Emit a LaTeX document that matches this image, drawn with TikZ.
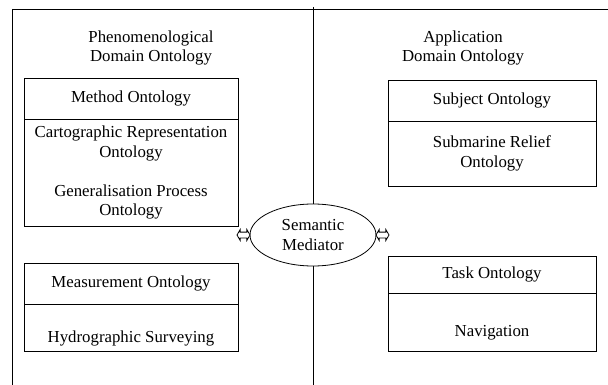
\documentclass[tikz,border=0pt]{standalone}
\usepackage{fontspec}
\setmainfont{Liberation Serif}
\usepackage{tikz}
\usetikzlibrary{shapes.geometric,shapes.arrows,positioning}
\tikzstyle{head} = [rectangle, draw, fill=white, align=center,
    inner sep=0pt, outer sep=0pt, minimum height=41pt]
\tikzstyle{body} = [rectangle, draw, fill=white, align=center,
    inner sep=0pt, outer sep=0pt]
\tikzstyle{title} = [align=center, inner sep=0pt]
\tikzstyle{mediator} = [ellipse, draw, fill=white, align=center,
    minimum width=126pt, minimum height=62pt, inner sep=0pt, outer sep=0pt]
\tikzstyle{link} = [double arrow, draw, fill=white, minimum height=13pt,
    inner xsep=0pt, inner ysep=2.5pt, double arrow head extend=2.5pt,
    double arrow tip angle=120, outer sep=0pt]

\begin{document}
\begin{tikzpicture}[x=1pt, y=-1pt, line width=0.8pt,
    font=\fontsize{16.8}{19.5}\selectfont]
 \useasboundingbox (0,0) rectangle (608,385);
 % Frame and divider
   \draw (12,9) -- (608,9);
   \draw (12,9) -- (12,385);
   \draw (313,7) -- (313,385);

 % Place nodes
   \node[title] (phen) at (151,48) {Phenomenological\\Domain Ontology};
   \node[title] (appl) at (463,48) {Application\\Domain Ontology};

   \node[head, minimum width=214pt, anchor=north west] (method) at (24,78) {Method Ontology};
   \node[body, minimum width=214pt, minimum height=107pt, below=0pt of method] (methodsub)
     {Cartographic Representation\\Ontology\\[19.5pt]Generalisation Process\\Ontology};
   \node[head, minimum width=214pt, anchor=north west] (measure) at (24,263) {Measurement Ontology};
   \node[body, minimum width=214pt, minimum height=47pt, below=0pt of measure] (measuresub)
     {\strut\\Hydrographic Surveying};

   \node[head, minimum width=208pt, anchor=north west] (subject) at (388,80) {Subject Ontology};
   \node[body, minimum width=208pt, minimum height=65pt, below=0pt of subject] (subjectsub)
     {Submarine Relief\\Ontology};
   \node[head, minimum width=208pt, minimum height=37pt, anchor=north west] (task) at (388,256) {Task Ontology};
   \node[body, minimum width=208pt, minimum height=58pt, below=0pt of task] (tasksub)
     {\strut\\Navigation};

   \node[mediator] (med) at (313,235) {Semantic\\Mediator};

 % Draw edges
   \node[link, left=0pt of med] (leftlink) {};
   \node[link, right=0pt of med] (rightlink) {};
\end{tikzpicture}
\end{document}
